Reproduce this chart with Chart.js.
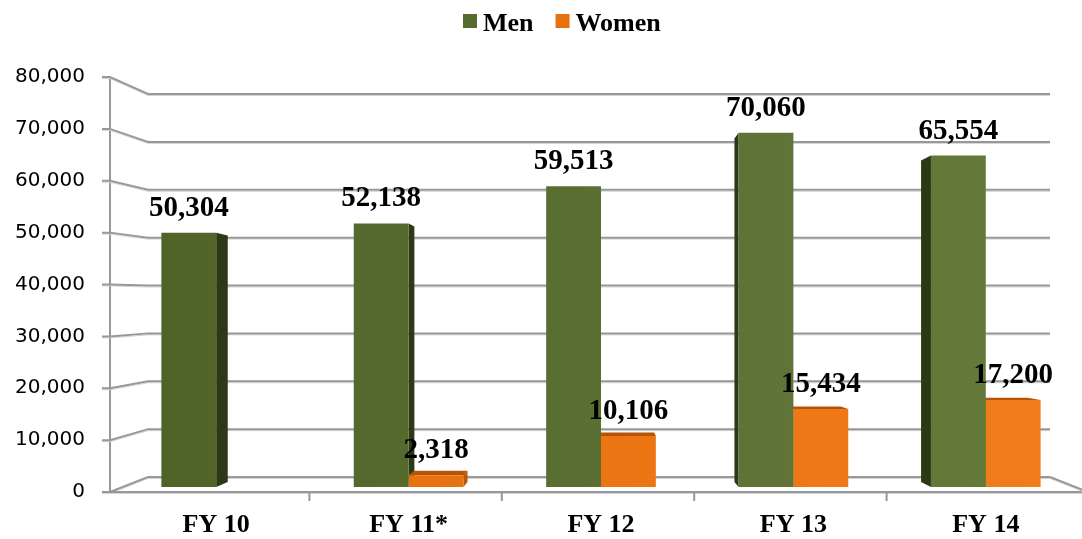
<!DOCTYPE html>
<html>
<head>
<meta charset="utf-8">
<script src="https://cdn.jsdelivr.net/npm/chart.js@4.4.1/dist/chart.umd.min.js"></script>
<style>
  html, body { margin: 0; padding: 0; background: #ffffff; }
  #wrap { width: 1082px; height: 539px; position: relative; }
</style>
</head>
<body>
<div id="wrap"><canvas id="c" width="1082" height="539"></canvas></div>
<script>
// ---- data ----
const categories = ['FY 10', 'FY 11*', 'FY 12', 'FY 13', 'FY 14'];
const menValues = [50304, 52138, 59513, 70060, 65554];
const womenValues = [null, 2318, 10106, 15434, 17200];
const seriesNames = ['Men', 'Women'];
const yMin = 0;
const yMax = 80000;
const yStep = 10000;

// ---- style ----
const menColors = ['#4f6228', '#667c3c'];
const womenColors = ['#e46c0a', '#f27d1c'];
const menSide = '#2d3916';
const womenTop = '#b35408';
const womenSide = '#b95a0b';
const gridColor = '#989898';
const serifBold = 'bold 29px "Liberation Serif", "Times New Roman", serif';

// perspective parameters for the pseudo-3D look
const DEPTH_SCALE = 0.97;
const VANISH_Y_FRAC = 0.59;

function gradientFill(pair) {
  return (ctx) => {
    const chart = ctx.chart;
    const ca = chart.chartArea;
    if (!ca) return pair[0];
    const g = chart.ctx.createLinearGradient(ca.left, 0, ca.right, 0);
    g.addColorStop(0, pair[0]);
    g.addColorStop(1, pair[1]);
    return g;
  };
}

function fmt(v) { return Number(v).toLocaleString('en-US'); }

const depthPlugin = {
  id: 'depth3d',
  beforeDatasetsDraw(chart) {
    const { ctx, chartArea: ca, scales } = chart;
    const ys = scales.y;
    const xs = scales.x;
    const frontX = ca.left - 10;
    const backL = ca.left + 28;
    const backR = ca.right - 32;
    const frontBottom = ys.getPixelForValue(yMin);
    const frontTop = ys.getPixelForValue(yMax);
    const backBottom = frontBottom - 15;
    const backTop = frontTop + 17;

    ctx.save();
    ctx.lineCap = 'butt';
    const strokePath = (pts) => {
      // soft shadow under each grid line, then the line itself
      ctx.strokeStyle = '#d4d4d4';
      ctx.lineWidth = 1;
      ctx.beginPath();
      pts.forEach((p, k) => (k ? ctx.lineTo(p[0], p[1] + 1.5) : ctx.moveTo(p[0], p[1] + 1.5)));
      ctx.stroke();
      ctx.strokeStyle = gridColor;
      ctx.lineWidth = 2;
      ctx.beginPath();
      pts.forEach((p, k) => (k ? ctx.lineTo(p[0], p[1]) : ctx.moveTo(p[0], p[1])));
      ctx.stroke();
    };
    // front vertical axis
    ctx.strokeStyle = gridColor;
    ctx.lineWidth = 2;
    ctx.beginPath();
    ctx.moveTo(frontX, frontTop);
    ctx.lineTo(frontX, frontBottom + 1);
    ctx.stroke();
    // grid lines (side wall diagonal + back wall horizontal)
    for (let v = yMin; v <= yMax; v += yStep) {
      const fy = ys.getPixelForValue(v);
      const by = backBottom - (v - yMin) / (yMax - yMin) * (backBottom - backTop);
      strokePath([[frontX - 8, fy], [frontX, fy], [backL, by], [backR, by]]);
    }
    // floor front edge and right edge
    strokePath([[frontX, frontBottom], [chart.width, frontBottom]]);
    strokePath([[backR, backBottom], [backR + (backL - frontX), frontBottom]]);
    // category separators on the floor
    ctx.strokeStyle = gridColor;
    ctx.lineWidth = 2;
    for (let i = 1; i < categories.length; i++) {
      const xb = (xs.getPixelForTick(i - 1) + xs.getPixelForTick(i)) / 2 - 3;
      ctx.beginPath();
      ctx.moveTo(xb, frontBottom);
      ctx.lineTo(xb, frontBottom + 9);
      ctx.stroke();
    }

    // 3D faces of bars
    const vx = (ca.left + ca.right) / 2;
    const vy = ca.top + VANISH_Y_FRAC * (ca.bottom - ca.top);
    const bx = (p) => vx + (p - vx) * DEPTH_SCALE;
    const by = (p) => vy + (p - vy) * DEPTH_SCALE;
    chart.data.datasets.forEach((ds, di) => {
      const meta = chart.getDatasetMeta(di);
      meta.data.forEach((el, i) => {
        if (ds.data[i] == null) return;
        const p = el.getProps(['x', 'y', 'base', 'width'], true);
        const L = p.x - p.width / 2, R = p.x + p.width / 2;
        const T = p.y, B = p.base;
        const L2 = bx(L), R2 = bx(R), T2 = by(T), B2 = by(B);
        const side = di === 0 ? menSide : womenSide;
        ctx.fillStyle = side;
        if (R2 > R) {
          ctx.beginPath();
          ctx.moveTo(R, T); ctx.lineTo(R2, T2); ctx.lineTo(R2, B2); ctx.lineTo(R, B);
          ctx.closePath(); ctx.fill();
        }
        if (L2 < L) {
          ctx.beginPath();
          ctx.moveTo(L, T); ctx.lineTo(L2, T2); ctx.lineTo(L2, B2); ctx.lineTo(L, B);
          ctx.closePath(); ctx.fill();
        }
        if (T2 < T) {
          ctx.fillStyle = di === 0 ? '#3c4b1f' : womenTop;
          ctx.beginPath();
          ctx.moveTo(L, T); ctx.lineTo(R, T); ctx.lineTo(R2, T2); ctx.lineTo(L2, T2);
          ctx.closePath(); ctx.fill();
        }
      });
    });
    ctx.restore();
  },
  afterDatasetsDraw(chart) {
    const { ctx } = chart;
    ctx.save();
    ctx.font = serifBold;
    ctx.fillStyle = '#000000';
    ctx.textAlign = 'center';
    ctx.textBaseline = 'alphabetic';
    chart.data.datasets.forEach((ds, di) => {
      const meta = chart.getDatasetMeta(di);
      meta.data.forEach((el, i) => {
        const v = ds.data[i];
        if (v == null) return;
        ctx.fillText(fmt(v), el.x, el.y - 17);
      });
    });
    ctx.restore();
  },
  afterDraw(chart) {
    // legend
    const { ctx } = chart;
    ctx.save();
    ctx.font = 'bold 26px "Liberation Serif", "Times New Roman", serif';
    ctx.textBaseline = 'alphabetic';
    ctx.textAlign = 'left';
    let x = 463;
    const boxTop = 14, box = 14, baseline = 31;
    chart.data.datasets.forEach((ds, di) => {
      ctx.fillStyle = di === 0 ? '#566b2e' : '#e8710f';
      ctx.fillRect(x, boxTop, box, box);
      x += box + 6;
      ctx.fillStyle = '#000000';
      ctx.fillText(ds.label, x, baseline);
      x += ctx.measureText(ds.label).width + 22;
    });
    ctx.restore();
  }
};

new Chart(document.getElementById('c'), {
  type: 'bar',
  data: {
    labels: categories,
    datasets: [
      { label: seriesNames[0], data: menValues, backgroundColor: gradientFill(menColors), yAxisID: 'yb', borderWidth: 0 },
      { label: seriesNames[1], data: womenValues, backgroundColor: gradientFill(womenColors), yAxisID: 'yb', borderWidth: 0 }
    ]
  },
  options: {
    responsive: false,
    animation: false,
    events: [],
    layout: { padding: { top: 77, right: -5, bottom: -6, left: 0 } },
    datasets: { bar: { barPercentage: 1.0, categoryPercentage: 0.57 } },
    plugins: { legend: { display: false }, tooltip: { enabled: false } },
    scales: {
      x: {
        grid: { display: false, drawTicks: false },
        border: { display: false },
        ticks: {
          padding: 18,
          color: '#000000',
          font: { family: '"Liberation Serif", "Times New Roman", serif', size: 26, weight: 'bold' }
        },
        afterFit: (s) => { s.height = 45; }
      },
      y: {
        min: yMin,
        max: yMax,
        grid: { display: false, drawTicks: false },
        border: { display: false },
        ticks: {
          stepSize: yStep,
          padding: 35,
          color: '#000000',
          font: { family: '"DejaVu Sans", Verdana, sans-serif', size: 20 },
          callback: (v) => fmt(v)
        },
        afterFit: (s) => { s.width = 120; }
      },
      yb: {
        display: false,
        min: -984,
        max: 81103
      }
    }
  },
  plugins: [depthPlugin]
});
</script>
</body>
</html>
